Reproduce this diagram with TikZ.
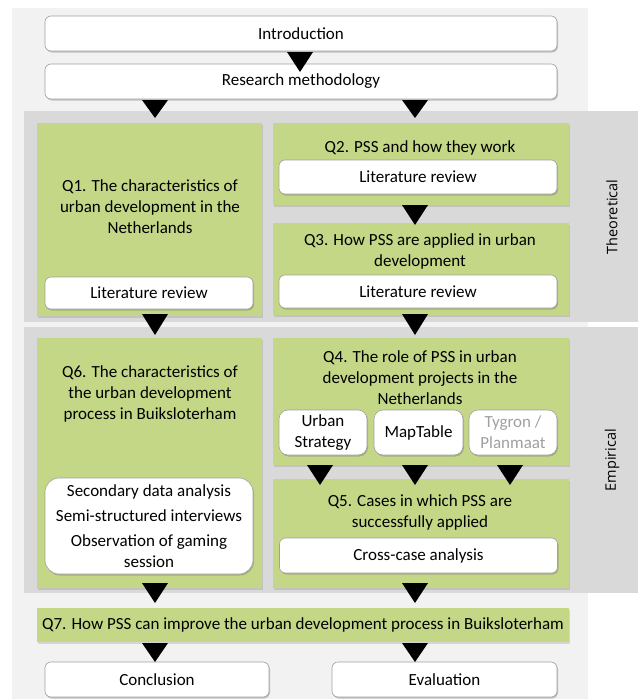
\documentclass[tikz,border=0pt]{standalone}
\usepackage{fontspec}
\setmainfont{Carlito}
\newfontfamily\sidefont{Open Sans}
\usetikzlibrary{shadows}

\begin{document}
\begin{tikzpicture}[x=1pt,y=-1pt,
    qbox/.style={fill=qgreen, inner sep=0pt,
      drop shadow={shadow xshift=1pt, shadow yshift=-1.5pt, opacity=0.25, fill=black!50}},
    wbox/.style={fill=white, draw=boxline, line width=0.6pt, rounded corners=6pt, inner sep=0pt,
      align=center, font=\fontsize{17}{21}\selectfont,
      drop shadow={shadow xshift=1pt, shadow yshift=-1.5pt, opacity=0.35, fill=black!60}},
    qtext/.style={align=center, inner sep=0pt, font=\fontsize{17}{21}\selectfont},
    sidelabel/.style={rotate=90, inner sep=0pt, font=\sidefont\fontsize{14.5}{17}\selectfont}]
    % colours
    \definecolor{bgpale}{RGB}{242,242,242}
    \definecolor{bandgray}{RGB}{217,217,217}
    \definecolor{qgreen}{RGB}{196,215,135}
    \definecolor{boxline}{RGB}{160,160,160}
    \definecolor{toolgray}{RGB}{160,160,160}
    \useasboundingbox (0,0) rectangle (638,699);

    % background and bands
    \fill[bgpale] (12,8) rectangle (588,699);
    \fill[bandgray] (24,111) rectangle (638,322);
    \fill[bandgray] (24,327) rectangle (638,593);
    \node[sidelabel] (theo) at (612,217) {Theoretical};
    \node[sidelabel] (emp) at (612,460) {Empirical};

    % start
    \node[wbox, minimum width=512pt, minimum height=35pt] (intro) at (301,33.5) {Introduction};
    \node[wbox, minimum width=512pt, minimum height=35pt] (method) at (301,81.5) {Research methodology};

    % theoretical part
    \node[qbox, minimum width=225pt, minimum height=193pt] (q1) at (149.5,219.5) {};
    \node[qtext] (q1t) at (150,207) {Q1. The characteristics of\\urban development in the\\Netherlands};
    \node[wbox, minimum width=208pt, minimum height=32pt] (lit1) at (149,293) {Literature review};
    \node[qbox, minimum width=296pt, minimum height=82pt] (q2) at (421,164) {};
    \node[qtext] (q2t) at (420,148) {Q2. PSS and how they work};
    \node[wbox, minimum width=278pt, minimum height=34pt] (lit2) at (418,177) {Literature review};
    \node[qbox, minimum width=296pt, minimum height=92pt] (q3) at (421,269) {};
    \node[qtext] (q3t) at (420,251.5) {Q3. How PSS are applied in urban\\development};
    \node[wbox, minimum width=278pt, minimum height=33pt] (lit3) at (418,291.5) {Literature review};

    % empirical part
    \node[qbox, minimum width=225pt, minimum height=250pt] (q6) at (149.5,463) {};
    \node[qtext] (q6t) at (150,394) {Q6. The characteristics of\\the urban development\\process in Buiksloterham};
    \node[wbox, rounded corners=14pt, minimum width=208pt, minimum height=96pt] (methods) at (149,526)
      {Secondary data analysis\\[4pt]Semi-structured interviews\\[4pt]Observation of gaming\\session};
    \node[qbox, minimum width=296pt, minimum height=127pt] (q4) at (421,401.5) {};
    \node[qtext] (q4t) at (420,377.5) {Q4. The role of PSS in urban\\development projects in the\\Netherlands};
    \node[wbox, rounded corners=9pt, minimum width=88pt, minimum height=45pt] (urban) at (323,432.5) {Urban\\Strategy};
    \node[wbox, rounded corners=9pt, minimum width=89pt, minimum height=45pt] (maptable) at (418.5,432.5) {MapTable};
    \node[wbox, rounded corners=9pt, minimum width=88pt, minimum height=45pt, text=toolgray] (tygron) at (513,432.5) {Tygron /\\Planmaat};
    \node[qbox, minimum width=296pt, minimum height=109pt] (q5) at (421,533.5) {};
    \node[qtext] (q5t) at (420,512) {Q5. Cases in which PSS are\\successfully applied};
    \node[wbox, minimum width=278pt, minimum height=35pt] (cross) at (418.5,555.5) {Cross-case analysis};

    % end
    \node[qbox, minimum width=532pt, minimum height=34pt] (q7) at (303,625) {};
    \node[qtext] (q7t) at (303,625) {Q7. How PSS can improve the urban development process in Buiksloterham};
    \node[wbox, minimum width=224pt, minimum height=35pt] (concl) at (157,679.5) {Conclusion};
    \node[wbox, minimum width=225pt, minimum height=35pt] (eval) at (444.5,679.5) {Evaluation};

    % arrow heads
    \foreach \x/\y/\h in {300/52/20, 155/100/18, 415/100/18, 415/205/20, 155/314/21, 415/314/21,
        320/465/20, 415/465/20, 510/465/20, 155/583/20, 415/583/20, 155/643/19, 415/643/19}
      \fill (\x-13,\y) -- (\x+13,\y) -- (\x,\y+\h) -- cycle;
\end{tikzpicture}
\end{document}
